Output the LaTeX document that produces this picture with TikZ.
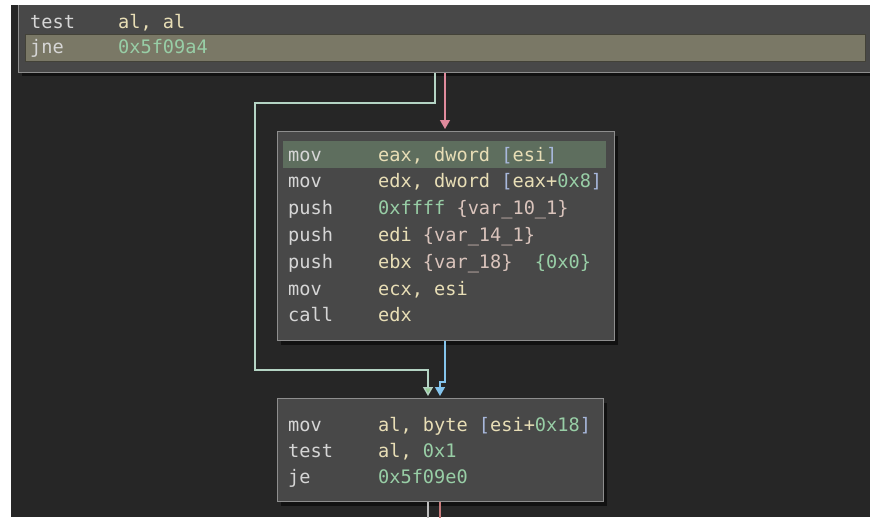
\documentclass[tikz,border=0pt]{standalone}
\usepackage{fontspec}
\usetikzlibrary{arrows.meta,shadows}

\newfontfamily\asmfont{DejaVu Sans Mono}

\definecolor{canvas}{HTML}{262626}
\definecolor{blockfill}{HTML}{484848}
\definecolor{blockline}{HTML}{8E8E8E}
\definecolor{rowjump}{HTML}{7A7866}
\definecolor{rowcur}{HTML}{5E6E5E}
\definecolor{optxt}{HTML}{D6D6D6}
\definecolor{regtxt}{HTML}{E8DEB6}
\definecolor{numtxt}{HTML}{98CEA6}
\definecolor{brktxt}{HTML}{A8B8DC}
\definecolor{vartxt}{HTML}{DAC4BC}
\definecolor{edgefall}{HTML}{B4D4C4}
\definecolor{tipfall}{HTML}{96CC96}
\definecolor{edgetaken}{HTML}{E08A9C}
\definecolor{edgecall}{HTML}{84C4EC}
\definecolor{edgeout}{HTML}{BEBEBE}
\definecolor{edgeoutred}{HTML}{C87C7C}

\newcommand\asmreg[1]{\textcolor{regtxt}{#1}}
\newcommand\asmnum[1]{\textcolor{numtxt}{#1}}
\newcommand\asmbrk[1]{\textcolor{brktxt}{#1}}
\newcommand\asmvar[1]{\textcolor{vartxt}{#1}}

\begin{document}
\begin{tikzpicture}[x=1pt, y=-1pt,
    blk/.style={draw=blockline, line width=1.3pt, fill=blockfill, inner sep=0pt,
                drop shadow={shadow xshift=3pt, shadow yshift=-4pt, fill=black, opacity=0.55}},
    op/.style={anchor=mid west, inner sep=0pt, yshift=-4pt, text=optxt,
               font=\asmfont\fontsize{18.6pt}{20pt}\selectfont},
    arg/.style={op, text=regtxt},
    flow/.style={line width=1.3pt},
    tip/.style={-{Triangle[width=10pt,length=9pt,fill=#1]}, shorten >=2pt}
  ]

  % page and canvas
  \useasboundingbox (0,0) rectangle (870,517);
  \fill[white] (0,0) rectangle (870,517);
  \begin{scope}
  \clip (11,5) rectangle (870,517);
  \fill[canvas] (11,5) rectangle (870,517);

  % blocks
  \node[blk, anchor=south west, minimum width=880pt, minimum height=100pt] (topblk) at (18,73) {};
  \node[blk, anchor=north west, minimum width=337pt, minimum height=209pt] (callblk) at (277,131) {};
  \node[blk, anchor=north west, minimum width=326pt, minimum height=103pt] (cmpblk) at (277,398) {};

  % highlighted rows
  \fill[rowjump, draw=black!45!rowjump, line width=0.8pt] (25,34) rectangle (865,61);
  \fill[rowcur] (283,141) rectangle (606,168);

  % top block
  \node[op] (t1) at (30,22) {test};
  \node[arg] (t1a) at (118,22) {al, al};
  \node[op] (t2) at (30,47) {jne};
  \node[arg] (t2a) at (118,47) {\asmnum{0x5f09a4}};

  % call block
  \node[op] (c1) at (288,155) {mov};
  \node[arg] (c1a) at (378,155) {eax, dword \asmbrk{[}esi\asmbrk{]}};
  \node[op] (c2) at (288,181.8) {mov};
  \node[arg] (c2a) at (378,181.8) {edx, dword \asmbrk{[}eax+\asmnum{0x8}\asmbrk{]}};
  \node[op] (c3) at (288,208.6) {push};
  \node[arg] (c3a) at (378,208.6) {\asmnum{0xffff} \asmvar{\{var\_10\_1\}}};
  \node[op] (c4) at (288,235.4) {push};
  \node[arg] (c4a) at (378,235.4) {edi \asmvar{\{var\_14\_1\}}};
  \node[op] (c5) at (288,262.2) {push};
  \node[arg] (c5a) at (378,262.2) {ebx \asmvar{\{var\_18\}}~ \asmnum{\{0x0\}}};
  \node[op] (c6) at (288,289) {mov};
  \node[arg] (c6a) at (378,289) {ecx, esi};
  \node[op] (c7) at (288,315.8) {call};
  \node[arg] (c7a) at (378,315.8) {edx};

  % compare block
  \node[op] (k1) at (288,425) {mov};
  \node[arg] (k1a) at (378,425) {al, byte \asmbrk{[}esi+\asmnum{0x18}\asmbrk{]}};
  \node[op] (k2) at (288,451) {test};
  \node[arg] (k2a) at (378,451) {al, \asmnum{0x1}};
  \node[op] (k3) at (288,477) {je};
  \node[arg] (k3a) at (378,477) {\asmnum{0x5f09e0}};

  % bend points
  \coordinate (fallbend) at (435,103);
  \coordinate (fallleft) at (255,370);
  \coordinate (fallin) at (428,0);
  \coordinate (takenin) at (445,0);
  \coordinate (callbend) at (440,382);
  \coordinate (outend) at (0,530);

  % edges
  \draw[flow, edgefall, tip=tipfall] (topblk.south -| fallbend) -- (fallbend) -| (fallleft)
        -| (cmpblk.north -| fallin);
  \draw[flow, edgetaken, tip=edgetaken] (topblk.south -| takenin) -- (callblk.north -| takenin);
  \draw[flow, edgecall, tip=edgecall] (callblk.south -| takenin) |- (callbend)
        -- (cmpblk.north -| callbend);
  \draw[flow, edgeout] (cmpblk.south -| fallin) -- (outend -| fallin);
  \draw[flow, edgeoutred] (cmpblk.south -| callbend) -- (outend -| callbend);
  \end{scope}

\end{tikzpicture}
\end{document}
